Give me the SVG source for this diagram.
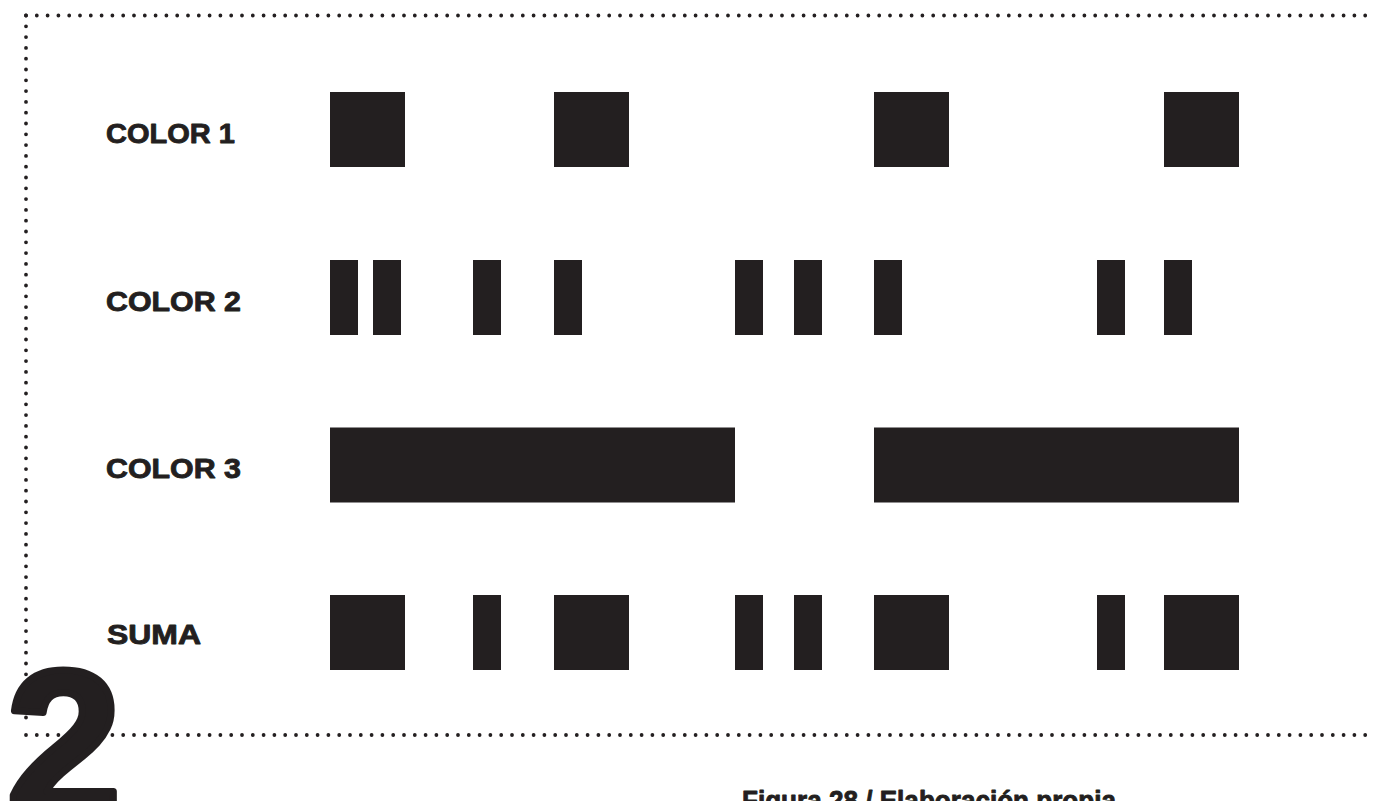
<svg xmlns="http://www.w3.org/2000/svg" width="1373" height="801" viewBox="0 0 1373 801">
  <style>
    .lbl { font-family: "Liberation Sans", Arial, sans-serif; font-weight: bold; font-size: 28px; fill: #231f20; stroke: #231f20; stroke-width: 0.9; stroke-linejoin: round; }
    .blk { fill: #231f20; }
    .dot { stroke: #231f20; stroke-width: 3.8; stroke-linecap: round; stroke-dasharray: 0 10.8; fill: none; }
  </style>
  <rect width="1373" height="801" fill="#ffffff"/>
  <g id="frame">
    <line class="dot" x1="26" y1="15.5" x2="1372" y2="15.5"/>
    <line class="dot" x1="26" y1="15.5" x2="26" y2="725"/>
    <line class="dot" x1="26" y1="735" x2="1372" y2="735"/>
  </g>
  <g id="big-number">
    <text x="6" y="815" font-family="Liberation Sans, Arial, sans-serif" font-weight="bold" font-size="208" fill="#231f20" stroke="#231f20" stroke-width="7" stroke-linejoin="round">2</text>
  </g>
  <g id="row-color1">
    <text class="lbl" x="106" y="143" textLength="129" lengthAdjust="spacingAndGlyphs">COLOR 1</text>
    <rect class="blk" x="330" y="92" width="75" height="75"/>
    <rect class="blk" x="554" y="92" width="75" height="75"/>
    <rect class="blk" x="874" y="92" width="75" height="75"/>
    <rect class="blk" x="1164" y="92" width="75" height="75"/>
  </g>
  <g id="row-color2">
    <text class="lbl" x="106" y="311" textLength="135" lengthAdjust="spacingAndGlyphs">COLOR 2</text>
    <rect class="blk" x="330" y="260" width="28" height="75"/>
    <rect class="blk" x="373" y="260" width="28" height="75"/>
    <rect class="blk" x="473" y="260" width="28" height="75"/>
    <rect class="blk" x="554" y="260" width="28" height="75"/>
    <rect class="blk" x="735" y="260" width="28" height="75"/>
    <rect class="blk" x="794" y="260" width="28" height="75"/>
    <rect class="blk" x="874" y="260" width="28" height="75"/>
    <rect class="blk" x="1097" y="260" width="28" height="75"/>
    <rect class="blk" x="1164" y="260" width="28" height="75"/>
  </g>
  <g id="row-color3">
    <text class="lbl" x="106" y="478" textLength="135" lengthAdjust="spacingAndGlyphs">COLOR 3</text>
    <rect class="blk" x="330" y="427.5" width="405" height="75"/>
    <rect class="blk" x="874" y="427.5" width="365" height="75"/>
  </g>
  <g id="row-suma">
    <text class="lbl" x="107" y="644" textLength="94" lengthAdjust="spacingAndGlyphs">SUMA</text>
    <rect class="blk" x="330" y="595" width="75" height="75"/>
    <rect class="blk" x="473" y="595" width="28" height="75"/>
    <rect class="blk" x="554" y="595" width="75" height="75"/>
    <rect class="blk" x="735" y="595" width="28" height="75"/>
    <rect class="blk" x="794" y="595" width="28" height="75"/>
    <rect class="blk" x="874" y="595" width="75" height="75"/>
    <rect class="blk" x="1097" y="595" width="28" height="75"/>
    <rect class="blk" x="1164" y="595" width="75" height="75"/>
  </g>
  <g id="caption">
    <text class="lbl" x="742" y="810" textLength="374" lengthAdjust="spacingAndGlyphs">Figura 28 / Elaboración propia</text>
  </g>
</svg>
